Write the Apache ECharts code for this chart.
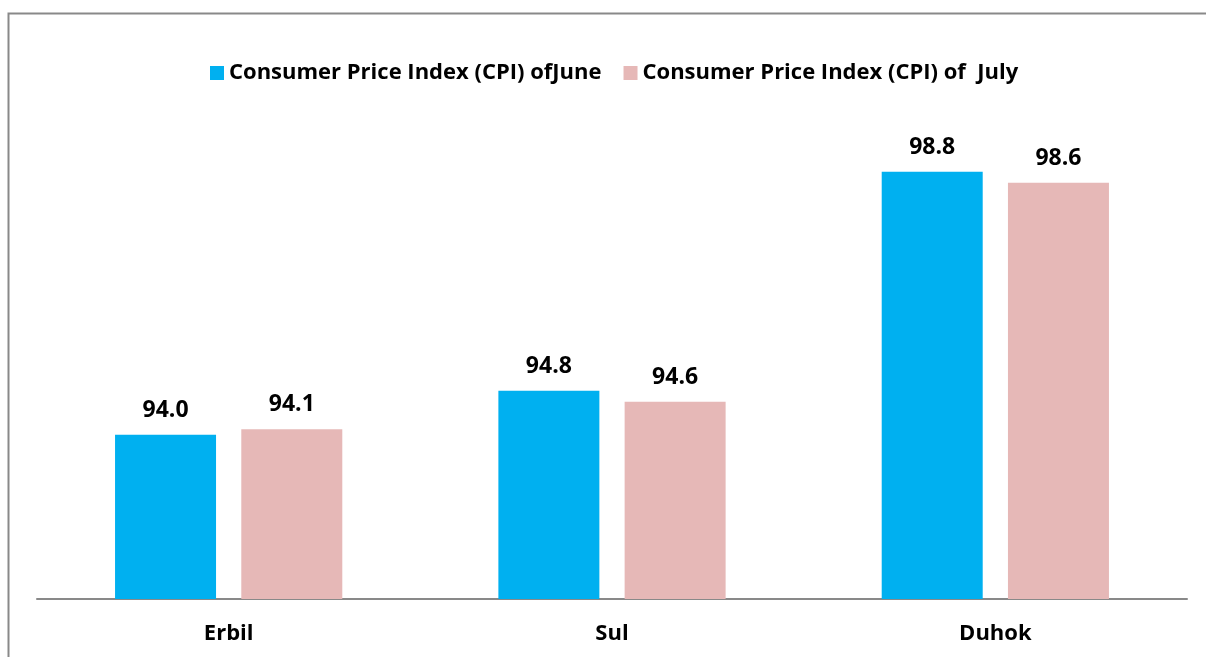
<!DOCTYPE html>
<html>
<head>
<meta charset="utf-8">
<script src="https://cdn.jsdelivr.net/npm/echarts@6/dist/echarts.min.js"></script>
<style>
  html, body { margin: 0; padding: 0; background: #fff; }
  #chart { width: 1206px; height: 657px; }
</style>
</head>
<body>
<div id="chart"></div>
<script>
var cities = ['Erbil', 'Sul', 'Duhok'];
var juneCPI = [94.0, 94.8, 98.8];
var julyCPI = [94.1, 94.6, 98.6];
var seriesNames = ['Consumer Price Index (CPI) ofJune', 'Consumer Price Index (CPI) of  July'];

var font = '"Open Sans", "Noto Sans", sans-serif';

var chart = echarts.init(document.getElementById('chart'));

function barLabel() {
    return {
        show: true,
        position: 'top',
        distance: 13,
        fontFamily: font,
        fontWeight: 'bold',
        fontSize: 23,
        color: '#000',
        formatter: function (p) { return p.value.toFixed(1); }
    };
}

chart.setOption({
    animation: false,
    graphic: [{
        type: 'rect',
        shape: { x: 8.5, y: 13.5, width: 1220, height: 680 },
        style: { fill: 'none', stroke: '#898989', lineWidth: 2 },
        silent: true
    }],
    legend: {
        left: 205,
        top: 57,
        itemWidth: 14,
        itemHeight: 14,
        itemGap: 22,
        icon: 'rect',
        textStyle: { fontFamily: font, fontWeight: 'bold', fontSize: 22, color: '#000' },
        data: seriesNames
    },
    grid: { left: 37, right: 19, top: 106, bottom: 58 },
    xAxis: {
        type: 'category',
        data: cities,
        axisLine: { lineStyle: { color: '#898989', width: 2 } },
        axisTick: { show: false },
        axisLabel: { fontFamily: font, fontWeight: 'bold', fontSize: 22, color: '#000', margin: 24 }
    },
    yAxis: {
        type: 'value',
        min: 91,
        max: 100,
        show: false,
        splitLine: { show: false }
    },
    series: [{
        name: seriesNames[0],
        type: 'bar',
        data: juneCPI,
        barWidth: 101,
        barGap: '25%',
        itemStyle: { color: '#00B0F0' },
        label: barLabel()
    }, {
        name: seriesNames[1],
        type: 'bar',
        data: julyCPI,
        barWidth: 101,
        itemStyle: { color: '#E6B8B7' },
        label: barLabel()
    }]
});
</script>
</body>
</html>
